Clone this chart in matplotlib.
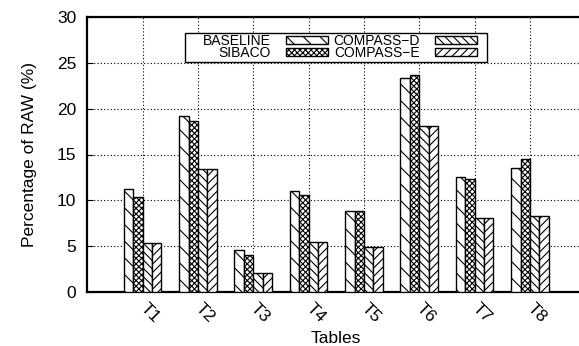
import matplotlib.pyplot as plt
from matplotlib.patches import Rectangle
import numpy as np

plt.rcParams['font.family'] = ['Liberation Sans', 'DejaVu Sans']
plt.rcParams['hatch.linewidth'] = 0.8

tables = ["T1", "T2", "T3", "T4", "T5", "T6", "T7", "T8"]
baseline = [11.2, 19.2, 4.6, 11.0, 8.8, 23.4, 12.5, 13.5]
sibaco = [10.3, 18.7, 4.0, 10.6, 8.8, 23.65, 12.3, 14.5]
compass_d = [5.3, 13.45, 2.0, 5.4, 4.85, 18.1, 8.1, 8.25]
compass_e = [5.3, 13.45, 2.0, 5.4, 4.85, 18.1, 8.1, 8.25]

series = [
    ("BASELINE", baseline, "\\\\"),
    ("SIBACO", sibaco, "xxxxxx"),
    ("COMPASS\u2212D", compass_d, "\\\\\\\\"),
    ("COMPASS\u2212E", compass_e, "////"),
]

W, H = 579, 346
fig = plt.figure(figsize=(W / 100, H / 100), dpi=100)
ax = fig.add_axes([87.3 / W, 54.3 / H, 498 / W, 274.4 / H])

x = np.arange(len(tables))
w = 0.17
offsets = [-1.5 * w, -0.5 * w, 0.5 * w, 1.5 * w]
handles = []
for (name, vals, hatch), off in zip(series, offsets):
    b = ax.bar(x + off, vals, w, facecolor="white", edgecolor="black",
               linewidth=1.0, hatch=hatch, label=name, zorder=3)
    handles.append(b)

ax.set_xlim(-1, 8)
ax.set_ylim(0, 30)
ax.set_yticks(range(0, 31, 5))
ax.set_xticks(x)
ax.set_xticklabels(tables, rotation=-45, ha="left", va="center",
                   rotation_mode="anchor")
ax.tick_params(axis="both", direction="in", length=4, labelsize=12.5)
ax.tick_params(axis="x", pad=10)
ax.tick_params(axis="y", pad=8)
ax.grid(True, linestyle=(0, (1, 2)), color="black", linewidth=0.8, zorder=0)
for s in ax.spines.values():
    s.set_linewidth(1.6)

ax.set_xlabel("Tables", fontsize=12.5, labelpad=4)
ax.set_ylabel("Percentage of RAW (%)", fontsize=12.5, labelpad=14)

# legend box drawn separately, gnuplot style
box = Rectangle((185 / W, 1 - 61.5 / H), 301.5 / W, 28.5 / H,
                transform=fig.transFigure, facecolor="white",
                edgecolor="black", linewidth=1.0, zorder=5)
fig.add_artist(box)
leg = fig.legend(handles=handles, ncol=2, loc="center",
                 bbox_to_anchor=(340 / W, 1 - 47 / H),
                 markerfirst=False, fontsize=10,
                 handlelength=3.0, handleheight=0.5, labelspacing=-0.1,
                 columnspacing=0.4, handletextpad=1.1, borderpad=0,
                 frameon=False, borderaxespad=0)
leg.set_zorder(6)
for t in leg.get_texts():
    t.set_ha("right")

fig.savefig("out.png", dpi=100)
